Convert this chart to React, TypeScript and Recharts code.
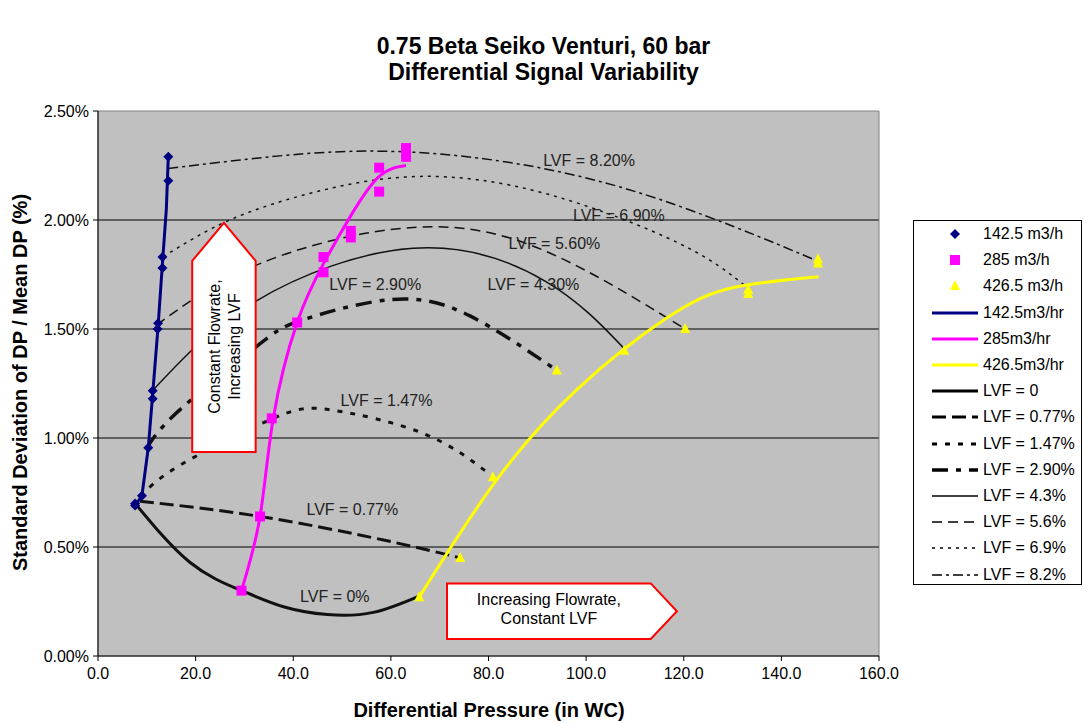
import React from 'react';
import { ComposedChart, Line, Scatter, XAxis, YAxis, CartesianGrid, ReferenceArea } from 'recharts';

const FONT = '"Liberation Sans", Arial, Helvetica, sans-serif';

// measured points: [differential pressure (in WC), std dev / mean DP (%)]
const flow142Pts = [[7.6, 0.69], [7.6, 0.70], [9.0, 0.735], [10.3, 0.955], [11.2, 1.18], [11.2, 1.217], [12.2, 1.50], [12.3, 1.526], [13.2, 1.78], [13.2, 1.83], [14.4, 2.18], [14.4, 2.29]];
const flow285Pts = [[29.4, 0.30], [33.2, 0.64], [35.6, 1.09], [40.8, 1.53], [46.2, 1.76], [46.2, 1.83], [51.8, 1.92], [51.8, 1.95], [57.6, 2.13], [57.6, 2.24], [63.1, 2.29], [63.1, 2.33]];
const flow426Pts = [[65.8, 0.27], [74.2, 0.45], [80.9, 0.82], [94.0, 1.31], [107.8, 1.40], [120.3, 1.50], [133.2, 1.66], [133.2, 1.68], [147.5, 1.80], [147.5, 1.82]];

// fitted flowrate curves
const flow142Fit = [[7.6, 0.69], [9.0, 0.735], [10.3, 0.955], [11.2, 1.2], [12.3, 1.51], [13.2, 1.80], [14.0, 2.05], [14.4, 2.29]];
const flow285Fit = [[29.4, 0.30], [33.2, 0.64], [35.9, 1.09], [40.8, 1.53], [46.2, 1.80], [51.8, 2.02], [57.6, 2.20], [63.1, 2.25]];
const flow426Fit = [[65.8, 0.27], [81.4, 0.80], [98.0, 1.22], [116.5, 1.55], [130.2, 1.69], [147.6, 1.74]];

// constant LVF curves
const lvf0 = [[7.6, 0.70], [18.8, 0.43], [29.4, 0.30], [38.0, 0.226], [47.0, 0.19], [56.4, 0.20], [65.8, 0.275]];
const lvf077 = [[8.6, 0.71], [33.2, 0.64], [58.5, 0.532], [74.2, 0.45]];
const lvf147 = [[8.8, 0.73], [16.8, 0.875], [35.9, 1.09], [48.0, 1.128], [66.7, 1.02], [80.9, 0.822]];
const lvf290 = [[10.0, 0.954], [16.8, 1.13], [32.5, 1.42], [41.7, 1.54], [60.0, 1.635], [76.2, 1.56], [94.0, 1.31]];
const lvf430 = [[11.3, 1.22], [32.2, 1.626], [64.6, 1.87], [91.6, 1.72], [107.8, 1.41]];
const lvf560 = [[12.0, 1.518], [33.2, 1.80], [64.6, 1.966], [91.9, 1.855], [120.3, 1.50]];
const lvf690 = [[13.4, 1.832], [27.0, 2.0], [44.8, 2.13], [66.0, 2.2], [91.9, 2.12], [119.3, 1.89], [133.0, 1.69]];
const lvf820 = [[14.4, 2.236], [29.1, 2.275], [52.0, 2.315], [78.3, 2.283], [105.6, 2.16], [130.2, 1.97], [147.6, 1.81]];

// in-plot curve labels: [x, y, text]
const lvfLabels: [number, number, string][] = [
  [91.2, 2.27, 'LVF = 8.20%'],
  [97.3, 2.02, 'LVF = 6.90%'],
  [84.1, 1.89, 'LVF = 5.60%'],
  [79.8, 1.70, 'LVF = 4.30%'],
  [47.4, 1.70, 'LVF = 2.90%'],
  [49.7, 1.17, 'LVF = 1.47%'],
  [42.7, 0.67, 'LVF = 0.77%'],
  [41.4, 0.27, 'LVF = 0%'],
];

const xTicks = [0, 20, 40, 60, 80, 100, 120, 140, 160];
const yTicks = [0, 0.5, 1, 1.5, 2, 2.5];

const pts = (a: number[][]) => a.map(([x, y]) => ({ x, y }));

const lvfSeries = [
  { name: 'LVF = 0', data: lvf0, w: 3, dash: undefined as string | undefined },
  { name: 'LVF = 0.77%', data: lvf077, w: 3, dash: '14 6' },
  { name: 'LVF = 1.47%', data: lvf147, w: 3, dash: '5 8' },
  { name: 'LVF = 2.90%', data: lvf290, w: 3.5, dash: '16 8 5 8' },
  { name: 'LVF = 4.3%', data: lvf430, w: 1.5, dash: undefined },
  { name: 'LVF = 5.6%', data: lvf560, w: 1.5, dash: '10 6' },
  { name: 'LVF = 6.9%', data: lvf690, w: 1.5, dash: '3 5' },
  { name: 'LVF = 8.2%', data: lvf820, w: 1.5, dash: '10 4 3 4' },
];

const Diamond = (p: any) => (
  <polygon points={`${p.cx},${p.cy - 5} ${p.cx + 5},${p.cy} ${p.cx},${p.cy + 5} ${p.cx - 5},${p.cy}`} fill="#000080" />
);
const Square = (p: any) => <rect x={p.cx - 5} y={p.cy - 5} width={10} height={10} fill="#FF00FF" />;
const Triangle = (p: any) => (
  <polygon points={`${p.cx},${p.cy - 6} ${p.cx + 5},${p.cy + 4} ${p.cx - 5},${p.cy + 4}`} fill="#FFFF00" />
);

const LabelText = (p: any) => (
  <text x={p.cx} y={p.cy} dy={5} textAnchor="start" fontSize={16} fill="#222" fontFamily={FONT}>
    {p.payload.text}
  </text>
);

const UpArrow = (p: any) => {
  const { x, y, width, height } = p;
  const sh = y + width * 0.6;
  const cx = x + width / 2;
  const cy = y + height * 0.54;
  return (
    <g>
      <polygon
        points={`${x},${sh} ${cx},${y} ${x + width},${sh} ${x + width},${y + height} ${x},${y + height}`}
        fill="#fff" stroke="#FF0000" strokeWidth={2}
      />
      <text transform={`translate(${cx},${cy}) rotate(-90)`} textAnchor="middle" fontSize={16} fontFamily={FONT} fill="#000">
        <tspan x={0} dy={-4}>Constant Flowrate,</tspan>
        <tspan x={0} dy={20}>Increasing LVF</tspan>
      </text>
    </g>
  );
};

const RightArrow = (p: any) => {
  const { x, y, width, height } = p;
  const sh = x + width - height * 0.47;
  const cy = y + height / 2;
  const tx = (x + sh) / 2;
  return (
    <g>
      <polygon
        points={`${x},${y} ${sh},${y} ${x + width},${cy} ${sh},${y + height} ${x},${y + height}`}
        fill="#fff" stroke="#FF0000" strokeWidth={2}
      />
      <text x={tx} y={cy} textAnchor="middle" fontSize={16} fontFamily={FONT} fill="#000">
        <tspan x={tx} dy={-6}>Increasing Flowrate,</tspan>
        <tspan x={tx} dy={19}>Constant LVF</tspan>
      </text>
    </g>
  );
};

const legendRows = [
  { label: '142.5 m3/h', kind: 'diamond' },
  { label: '285 m3/h', kind: 'square' },
  { label: '426.5 m3/h', kind: 'triangle' },
  { label: '142.5m3/hr', kind: 'line', color: '#000080', w: 3 },
  { label: '285m3/hr', kind: 'line', color: '#FF00FF', w: 3 },
  { label: '426.5m3/hr', kind: 'line', color: '#FFFF00', w: 3 },
  ...lvfSeries.map(s => ({ label: s.name, kind: 'line', color: '#000', w: s.w, dash: s.dash })),
];

const Swatch = ({ row }: { row: any }) => (
  <svg width={48} height={14} style={{ display: 'block' }}>
    {row.kind === 'diamond' && <polygon points="24,2 29,7 24,12 19,7" fill="#000080" />}
    {row.kind === 'square' && <rect x={19} y={2} width={10} height={10} fill="#FF00FF" />}
    {row.kind === 'triangle' && <polygon points="24,1 29,11 19,11" fill="#FFFF00" />}
    {row.kind === 'line' && (
      <line x1={1} y1={7} x2={47} y2={7} stroke={row.color} strokeWidth={row.w} strokeDasharray={row.dash} />
    )}
  </svg>
);

export default function App() {
  return (
    <div style={{ position: 'absolute', left: 0, top: 0, width: 1087, height: 723, background: '#fff', fontFamily: FONT }}>
      <div style={{ position: 'absolute', left: 0, top: 33, width: 1087, textAlign: 'center', fontWeight: 'bold', fontSize: 23, lineHeight: '26px' }}>
        <div>0.75 Beta Seiko Venturi, 60 bar</div>
        <div>Differential Signal Variability</div>
      </div>

      <ComposedChart width={1087} height={723} margin={{ top: 111, right: 208, bottom: 0, left: 0 }}>
        <CartesianGrid horizontal vertical={false} stroke="#000" fill="#C0C0C0" horizontalValues={[0.5, 1, 1.5, 2]} />
        <XAxis
          type="number" dataKey="x" domain={[0, 160]} ticks={xTicks} height={67}
          tickFormatter={(v: number) => v.toFixed(1)} stroke="#000" tickSize={5} tickMargin={7}
          tick={{ fontSize: 16, fill: '#000', fontFamily: FONT }} allowDataOverflow
        />
        <YAxis
          type="number" dataKey="y" domain={[0, 2.5]} ticks={yTicks} width={98}
          tickFormatter={(v: number) => v.toFixed(2) + '%'} stroke="#000" tickSize={5} tickMargin={4}
          tick={{ fontSize: 16, fill: '#000', fontFamily: FONT }} allowDataOverflow
        />
        <ReferenceArea x1={0} x2={160} y1={0} y2={2.5} fill="none" stroke="#808080" strokeWidth={1} />

        {lvfSeries.map(s => (
          <Line
            key={s.name} data={pts(s.data)} dataKey="y" type="natural" stroke="#111"
            strokeWidth={s.w} strokeDasharray={s.dash} dot={false} activeDot={false} isAnimationActive={false}
          />
        ))}

        <ReferenceArea x1={19.3} x2={32.3} y1={0.936} y2={1.987} shape={UpArrow} zIndex={650} />
        <ReferenceArea x1={71.5} x2={118.6} y1={0.078} y2={0.333} shape={RightArrow} zIndex={650} />

        <Line data={pts(flow142Fit)} dataKey="y" type="linear" stroke="#000080" strokeWidth={3} dot={false} activeDot={false} isAnimationActive={false} />
        <Line data={pts(flow285Fit)} dataKey="y" type="natural" stroke="#FF00FF" strokeWidth={3} dot={false} activeDot={false} isAnimationActive={false} />
        <Line data={pts(flow426Fit)} dataKey="y" type="natural" stroke="#FFFF00" strokeWidth={3} dot={false} activeDot={false} isAnimationActive={false} />

        <Scatter data={pts(flow142Pts)} dataKey="y" shape={Diamond} isAnimationActive={false} />
        <Scatter data={pts(flow285Pts)} dataKey="y" shape={Square} isAnimationActive={false} />
        <Scatter data={pts(flow426Pts)} dataKey="y" shape={Triangle} isAnimationActive={false} />
        <Scatter data={lvfLabels.map(([x, y, text]) => ({ x, y, text }))} dataKey="y" shape={LabelText} isAnimationActive={false} />
      </ComposedChart>

      <div style={{ position: 'absolute', left: 0, top: 699, width: 978, textAlign: 'center', fontWeight: 'bold', fontSize: 20 }}>
        Differential Pressure (in WC)
      </div>
      <div style={{ position: 'absolute', left: 20, top: 383, width: 0, height: 0 }}>
        <div style={{ position: 'absolute', left: -250, top: -12, width: 500, textAlign: 'center', fontWeight: 'bold', fontSize: 20, transform: 'rotate(-90deg)', whiteSpace: 'nowrap' }}>
          Standard Deviation of DP / Mean DP (%)
        </div>
      </div>

      <div style={{ position: 'absolute', left: 913, top: 220, width: 167, height: 363, background: '#fff', border: '1px solid #000' }}>
        {legendRows.map((r, i) => (
          <div key={i} style={{ position: 'absolute', left: 17, top: 5 + i * 26.2, height: 16, display: 'flex', alignItems: 'center', whiteSpace: 'nowrap' }}>
            <Swatch row={r} />
            <span style={{ fontSize: 16, marginLeft: 4, color: '#000' }}>{r.label}</span>
          </div>
        ))}
      </div>
    </div>
  );
}
